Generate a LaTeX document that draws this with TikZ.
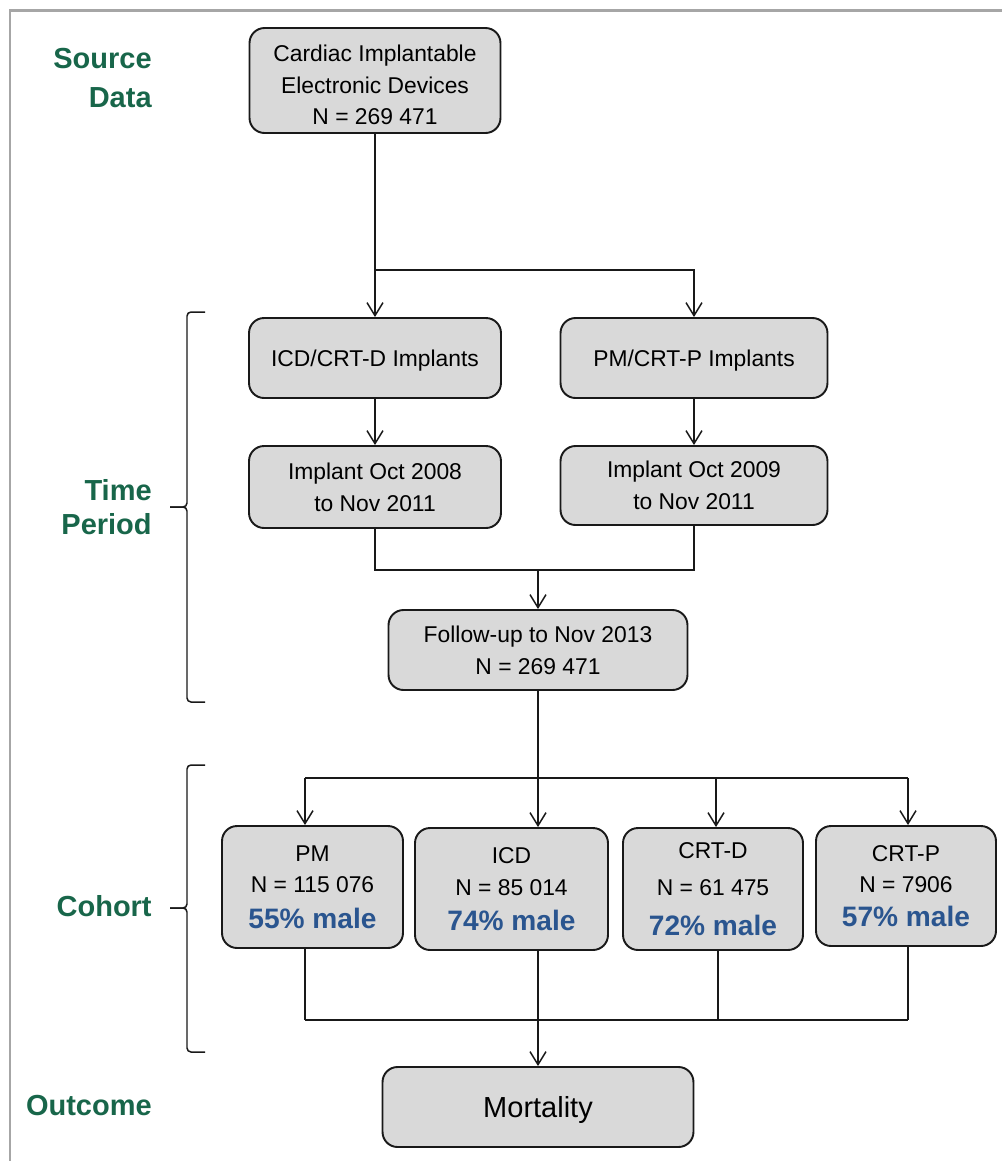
\documentclass[tikz,border=0pt]{standalone}
\usepackage{fontspec}
\setmainfont{Liberation Sans}
\usepackage{xcolor}
\usetikzlibrary{arrows.meta, positioning}
\definecolor{cohortgreen}{RGB}{24,102,74}
\definecolor{cohortblue}{RGB}{42,85,143}
\definecolor{cohortbox}{RGB}{217,217,217}
\definecolor{cohortframe}{RGB}{166,166,166}
\definecolor{cohortline}{RGB}{25,25,25}

\begin{document}
\begin{tikzpicture}[
    x=0.02cm, y=-0.02cm,
    box/.style={
        rectangle,
        rounded corners=0.3cm,
        draw=cohortline,
        fill=cohortbox,
        line width=1.1pt,
        align=center,
        inner sep=0pt,
        font=\fontsize{13}{18}\selectfont
    },
    tight/.style={
        text depth=0pt
    },
    arrow/.style={
        -{Straight Barb[length=0.26cm, width=0.32cm]},
        line width=0.85pt,
        cohortline
    },
    link/.style={
        line width=0.85pt,
        cohortline
    },
    stage/.style={
        anchor=east,
        align=right,
        inner sep=0pt,
        text=cohortgreen,
        font=\fontsize{16.5}{19.3}\selectfont\bfseries
    },
    brace/.style={
        line width=0.85pt,
        rounded corners=0.08cm,
        cohortline
    }
]

% Frame
\useasboundingbox (0,0) rectangle (1002,1161);
\draw[cohortframe, line width=0.06cm] (10,1161) -- (10,10) -- (1002,10);

% Stage labels
\node[stage] (lsource) at (152,78) {Source\\[3.4pt]Data};
\node[stage] (ltime) at (152,507) {Time\\Period};
\node[stage] (lcohort) at (152,906) {Cohort};
\node[stage] (loutcome) at (152,1106) {Outcome};

% Nodes
\node[box, tight, minimum width=5.02cm, minimum height=2.1cm] (source) at (375,80.5)
    {\rule{0pt}{14.5pt}Cardiac Implantable\\Electronic Devices\\N = 269 471};
\node[box, tight, minimum width=5.04cm, minimum height=1.6cm] (icdimp) at (375,358)
    {ICD/CRT-D Implants};
\node[box, tight, minimum width=5.34cm, minimum height=1.6cm] (pmimp) at (694,358)
    {PM/CRT-P Implants};
\node[box, tight, minimum width=5.04cm, minimum height=1.64cm] (icdtime) at (375,487)
    {Implant Oct 2008\\to Nov 2011};
\node[box, tight, minimum width=5.34cm, minimum height=1.58cm] (pmtime) at (694,485.5)
    {Implant Oct 2009\\to Nov 2011};
\node[box, tight, minimum width=5.98cm, minimum height=1.6cm] (followup) at (538,650)
    {Follow-up to Nov 2013\\N = 269 471};

\node[box, minimum width=3.62cm, minimum height=2.44cm] (pm) at (312.5,887)
    {PM\\N = 115 076\\[2pt]{\fontsize{16}{19}\selectfont\bfseries\color{cohortblue}55\% male}};
\node[box, minimum width=3.86cm, minimum height=2.44cm] (icd) at (511.5,889)
    {ICD\\N = 85 014\\[2pt]{\fontsize{16}{19}\selectfont\bfseries\color{cohortblue}74\% male}};
\node[box, minimum width=3.6cm, minimum height=2.44cm] (crtd) at (713,889)
    {CRT-D\\[3pt]N = 61 475\\[5pt]{\fontsize{16}{19}\selectfont\bfseries\color{cohortblue}72\% male}};
\node[box, minimum width=3.6cm, minimum height=2.4cm] (crtp) at (906,886)
    {CRT-P\\N = 7906\\[1pt]{\fontsize{16}{19}\selectfont\bfseries\color{cohortblue}57\% male}};

\node[box, tight, minimum width=6.22cm, minimum height=1.6cm, font=\fontsize{16.5}{20}\selectfont] (mortality) at (538,1107)
    {Mortality};

% Junctions
\coordinate (split) at (375,270);
\coordinate (merge) at (538,570);
\coordinate (bus) at (538,778);
\coordinate (busPM) at (305,778);
\coordinate (busCRTD) at (716,778);
\coordinate (busCRTP) at (908,778);
\coordinate (gather) at (538,1020);
\coordinate (endPM) at (305,1020);
\coordinate (endCRTD) at (718,1020);
\coordinate (endCRTP) at (908,1020);

% Arrows
\draw[arrow] (source) -- (icdimp);
\draw[arrow] (split) -| (pmimp);
\draw[arrow] (icdimp) -- (icdtime);
\draw[arrow] (pmimp) -- (pmtime);
\draw[link] (icdtime) |- (merge);
\draw[link] (pmtime) |- (merge);
\draw[arrow] (merge) -- (followup);

\draw[link] (followup) -- (bus);
\draw[link] (busPM) -- (busCRTP);
\foreach \tap/\dev in {busPM/pm, bus/icd, busCRTD/crtd, busCRTP/crtp} {
    \draw[arrow] (\tap) -- (\tap |- \dev.north);
}

\foreach \tap/\dev in {endPM/pm, gather/icd, endCRTD/crtd, endCRTP/crtp} {
    \draw[link] (\dev.south -| \tap) -- (\tap);
}
\draw[link] (endPM) -- (endCRTP);
\draw[arrow] (gather) -- (mortality);

% Braces
\foreach \top/\mid/\bot in {312/507/702, 765/908/1052} {
    \draw[brace] (205,\top) -- (187,\top) -- (187,\mid) -- (170,\mid);
    \draw[brace] (205,\bot) -- (187,\bot) -- (187,\mid) -- (170,\mid);
}

\end{tikzpicture}
\end{document}
